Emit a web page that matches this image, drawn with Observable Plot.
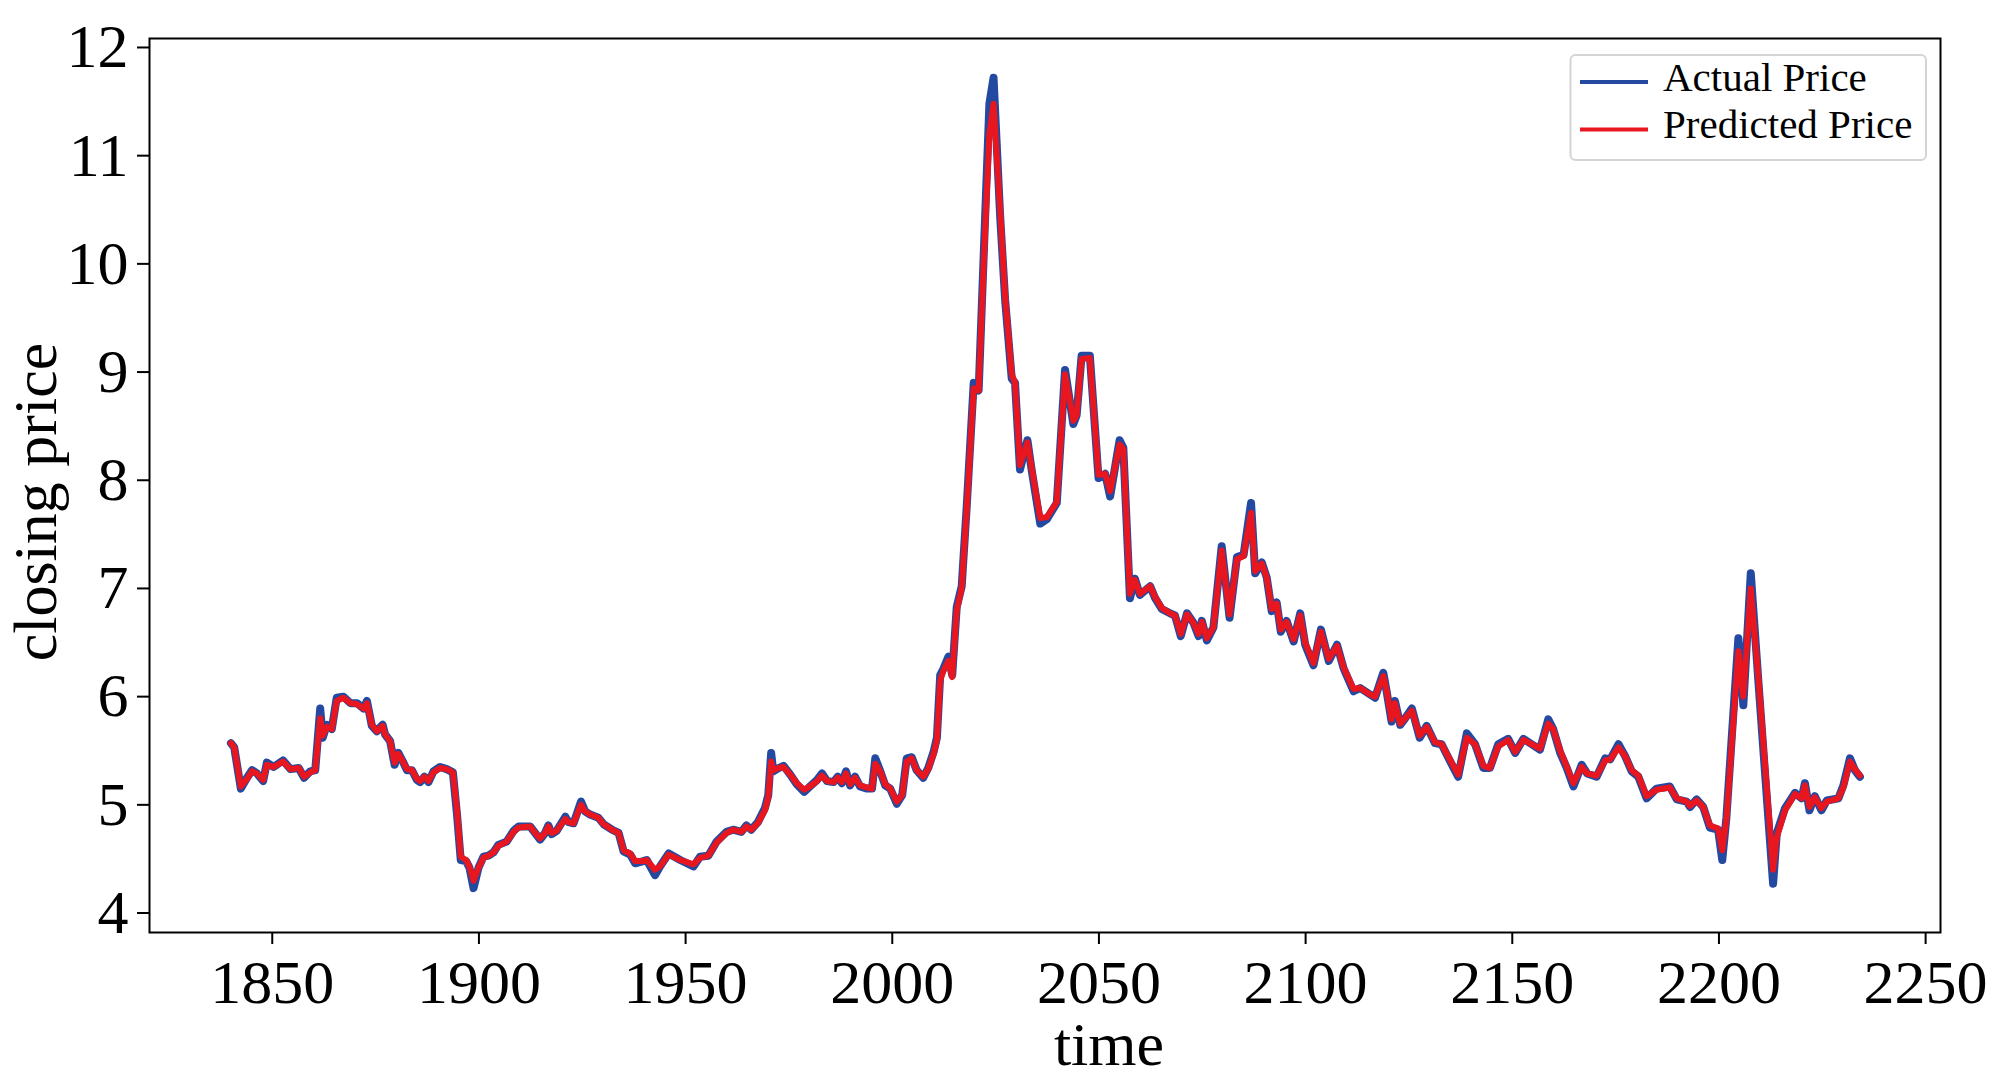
<!DOCTYPE html>
<html><head><meta charset="utf-8">
<script src="https://cdn.jsdelivr.net/npm/d3@7"></script>
<script src="https://cdn.jsdelivr.net/npm/@observablehq/plot@0.6"></script>
<style>html,body{margin:0;padding:0;background:#fff;overflow:hidden}</style>
</head><body><div id="chart"></div>
<script>
const time = [1840,1840.8,1842.4,1843.9,1845.1,1846.3,1847.8,1848.7,1850.3,1852.6,1854.4,1856.4,1857.7,1859.2,1860.4,1861.6,1862.2,1863.2,1864.4,1865.6,1867.2,1868.9,1870.5,1872.1,1872.9,1874.1,1875.3,1876.7,1877.3,1878.5,1879.6,1880.5,1881.6,1882.6,1883.8,1885.0,1885.8,1886.8,1887.8,1889.0,1890.6,1892.2,1893.7,1894.7,1895.6,1896.9,1897.7,1898.7,1899.9,1901.1,1902.3,1903.5,1904.7,1906.7,1908.4,1909.6,1912.4,1913.6,1914.8,1916.0,1916.8,1917.6,1918.8,1920.9,1921.7,1922.9,1924.7,1925.7,1926.9,1928.9,1930.2,1932.2,1933.8,1935.0,1936.6,1937.8,1939.8,1940.6,1942.6,1943.8,1945.9,1948.7,1950.3,1951.9,1953.5,1955.5,1957.5,1959.9,1961.5,1963.5,1964.7,1965.9,1967.5,1969.2,1970.0,1970.7,1971.2,1972.5,1973.7,1975.3,1976.9,1978.7,1980.1,1981.8,1983.0,1984.2,1985.8,1986.8,1987.8,1988.8,1989.8,1991.0,1992.2,1993.9,1995.1,1995.9,1997.1,1998.3,1999.5,2001.1,2002.4,2003.5,2004.7,2005.9,2007.5,2008.7,2010.0,2010.8,2011.6,2012.4,2013.6,2014.5,2015.6,2016.8,2018.0,2019.7,2020.9,2022.1,2023.5,2024.5,2026.1,2027.3,2028.9,2029.7,2030.9,2032.7,2033.7,2035.8,2037.4,2039.8,2041.8,2043.8,2044.6,2045.8,2047.8,2049.9,2051.5,2052.7,2055.0,2055.9,2057.5,2058.7,2059.9,2062.4,2063.6,2065.2,2067.2,2068.4,2069.8,2071.3,2072.9,2074.1,2074.9,2076.1,2077.7,2079.7,2081.6,2083.4,2085.0,2086.8,2087.8,2089.4,2090.6,2091.8,2093.0,2094.0,2095.4,2097.1,2098.7,2099.9,2101.9,2103.7,2105.6,2107.6,2109.2,2111.6,2113.2,2115.6,2116.8,2118.8,2119.6,2120.8,2121.6,2122.9,2124.1,2125.7,2127.6,2129.3,2131.3,2132.9,2134.6,2136.9,2139.0,2141.0,2143.0,2144.6,2146.6,2149.0,2150.7,2152.7,2154.7,2156.7,2158.7,2159.9,2161.6,2163.2,2164.8,2166.8,2168.1,2170.4,2172.5,2173.7,2175.7,2177.3,2178.9,2180.5,2182.5,2184.9,2188.1,2189.8,2192.2,2193.0,2194.6,2196.2,2197.8,2199.8,2200.8,2201.8,2204.7,2205.9,2207.7,2209.6,2213.1,2214.0,2216.0,2218.4,2220.0,2220.8,2221.9,2223.2,2224.8,2226.1,2228.9,2230.1,2231.7,2232.9,2234.1];
const actual = [5.57,5.53,5.15,5.25,5.32,5.29,5.22,5.39,5.35,5.41,5.33,5.34,5.25,5.31,5.32,5.89,5.62,5.74,5.70,5.99,6.00,5.94,5.94,5.89,5.96,5.73,5.68,5.74,5.65,5.59,5.37,5.48,5.40,5.32,5.32,5.23,5.21,5.26,5.21,5.31,5.35,5.33,5.30,4.91,4.49,4.48,4.42,4.23,4.42,4.52,4.53,4.56,4.63,4.66,4.76,4.80,4.80,4.74,4.68,4.74,4.81,4.73,4.76,4.89,4.84,4.83,5.03,4.94,4.91,4.88,4.82,4.77,4.74,4.57,4.54,4.46,4.48,4.49,4.35,4.43,4.55,4.49,4.46,4.43,4.52,4.53,4.66,4.75,4.77,4.75,4.81,4.77,4.84,4.97,5.09,5.48,5.31,5.34,5.36,5.28,5.19,5.12,5.17,5.23,5.29,5.22,5.21,5.26,5.20,5.31,5.18,5.26,5.17,5.15,5.15,5.43,5.31,5.18,5.15,5.01,5.09,5.43,5.44,5.32,5.25,5.34,5.49,5.62,6.20,6.26,6.37,6.20,6.83,7.02,7.75,8.90,8.83,10.06,11.48,11.72,10.44,9.67,8.94,8.90,8.10,8.37,8.10,7.60,7.64,7.79,9.02,8.52,8.60,9.15,9.15,8.02,8.06,7.85,8.37,8.30,6.91,7.09,6.94,7.02,6.91,6.81,6.77,6.75,6.56,6.77,6.68,6.56,6.70,6.52,6.64,7.39,6.73,7.29,7.31,7.79,7.14,7.24,7.10,6.79,6.87,6.60,6.70,6.51,6.77,6.48,6.29,6.62,6.33,6.48,6.26,6.05,6.08,6.02,5.99,6.22,6.05,5.77,5.96,5.74,5.80,5.89,5.62,5.73,5.57,5.56,5.43,5.26,5.66,5.56,5.34,5.34,5.56,5.61,5.48,5.61,5.56,5.51,5.79,5.70,5.48,5.34,5.17,5.37,5.29,5.26,5.43,5.42,5.56,5.45,5.31,5.26,5.06,5.15,5.17,5.05,5.03,4.98,5.05,4.98,4.79,4.77,4.49,4.88,6.54,5.92,7.14,6.11,4.27,4.74,4.97,5.11,5.06,5.20,4.95,5.08,4.95,5.04,5.06,5.18,5.43,5.32,5.26];
const predicted = [5.57,5.53,5.17,5.24,5.31,5.29,5.23,5.37,5.35,5.40,5.33,5.34,5.26,5.30,5.32,5.80,5.64,5.72,5.70,5.96,5.99,5.94,5.93,5.89,5.94,5.74,5.68,5.73,5.65,5.59,5.39,5.47,5.40,5.33,5.32,5.24,5.22,5.26,5.22,5.30,5.34,5.33,5.30,4.95,4.52,4.49,4.43,4.30,4.42,4.51,4.53,4.56,4.62,4.66,4.75,4.79,4.80,4.74,4.69,4.74,4.80,4.74,4.76,4.87,4.84,4.83,5.00,4.94,4.91,4.88,4.82,4.77,4.74,4.58,4.55,4.48,4.48,4.49,4.40,4.43,4.54,4.49,4.47,4.45,4.51,4.53,4.65,4.74,4.77,4.75,4.80,4.77,4.83,4.95,5.07,5.40,5.32,5.34,5.35,5.28,5.20,5.14,5.17,5.22,5.27,5.22,5.21,5.25,5.21,5.29,5.19,5.25,5.18,5.16,5.15,5.38,5.31,5.19,5.15,5.03,5.09,5.40,5.43,5.32,5.26,5.33,5.47,5.60,6.15,6.24,6.33,6.18,6.80,7.00,7.72,8.85,8.83,9.98,11.20,11.48,10.50,9.70,8.98,8.90,8.14,8.35,8.12,7.65,7.66,7.80,8.98,8.55,8.60,9.12,9.13,8.05,8.06,7.90,8.33,8.29,6.95,7.08,6.95,7.02,6.92,6.82,6.77,6.75,6.58,6.76,6.68,6.58,6.69,6.54,6.64,7.35,6.76,7.27,7.30,7.70,7.16,7.23,7.10,6.81,6.86,6.62,6.69,6.53,6.75,6.50,6.31,6.60,6.35,6.47,6.27,6.07,6.08,6.02,6.00,6.19,6.06,5.79,5.94,5.75,5.80,5.87,5.64,5.72,5.58,5.56,5.44,5.28,5.62,5.56,5.36,5.34,5.54,5.60,5.49,5.60,5.56,5.52,5.75,5.70,5.50,5.35,5.20,5.35,5.29,5.27,5.41,5.42,5.53,5.45,5.32,5.27,5.08,5.14,5.16,5.06,5.03,4.99,5.04,4.98,4.81,4.78,4.58,4.86,6.42,6.00,7.00,6.15,4.40,4.70,4.95,5.10,5.06,5.18,4.98,5.07,4.97,5.03,5.06,5.16,5.40,5.33,5.27];
const xTicks = [1850,1900,1950,2000,2050,2100,2150,2200,2250];
const yTicks = [4,5,6,7,8,9,10,11,12];
const seriesNames = ["Actual Price","Predicted Price"];
const seriesColors = ["#2349a0","#e8161f"];
const xLabel = "time";
const yLabel = "closing price";

const rows = time.map((t,i)=>({t, actual: actual[i], predicted: predicted[i]}));
const FONT = "'Liberation Serif','Times New Roman',serif";

const chart = Plot.plot({
  width: 2000, height: 1079,
  marginLeft: 149, marginRight: 60, marginTop: 38, marginBottom: 147,
  style: {fontFamily: FONT, background: "#fff", color: "#000"},
  x: {domain: [1820.3, 2253.6]},
  y: {domain: [3.82, 12.083]},
  marks: [
    Plot.line(rows, {x: "t", y: "actual", stroke: seriesColors[0], strokeWidth: 8, strokeLinejoin: "round"}),
    Plot.line(rows, {x: "t", y: "predicted", stroke: seriesColors[1], strokeWidth: 6, strokeLinejoin: "round"}),
    Plot.frame({stroke: "#000", strokeWidth: 2}),
    Plot.axisX({ticks: xTicks, tickSize: 12, tickPadding: 14, fontSize: 62, tickFormat: d => String(d), label: null, strokeWidth: 2}),
    Plot.axisY({ticks: yTicks, tickSize: 12, tickPadding: 9, fontSize: 62, tickFormat: d => String(d), label: null, strokeWidth: 2})
  ]
});
document.getElementById("chart").appendChild(chart);

const svg = d3.select(chart);
svg.append("text").attr("x", 1109).attr("y", 1065).attr("text-anchor", "middle")
  .attr("font-size", 62).attr("font-family", FONT).attr("fill", "#000").text(xLabel);
svg.append("text").attr("transform", "translate(56,502) rotate(-90)").attr("text-anchor", "middle")
  .attr("font-size", 62).attr("font-family", FONT).attr("fill", "#000").text(yLabel);

const lg = svg.append("g");
lg.append("rect").attr("x", 1570.5).attr("y", 55).attr("width", 355.5).attr("height", 105).attr("rx", 5)
  .attr("fill", "#fff").attr("fill-opacity", 0.8).attr("stroke", "#d4d4d4").attr("stroke-width", 2);
seriesNames.forEach((name, i) => {
  const y = 82 + i * 47.5;
  lg.append("line").attr("x1", 1580).attr("x2", 1648).attr("y1", y).attr("y2", y)
    .attr("stroke", seriesColors[i]).attr("stroke-width", 4);
  lg.append("text").attr("x", 1663).attr("y", y + 8.5).attr("font-size", 41).attr("text-anchor", "start")
    .attr("font-family", FONT).attr("fill", "#000").text(name);
});
</script>
</body></html>
